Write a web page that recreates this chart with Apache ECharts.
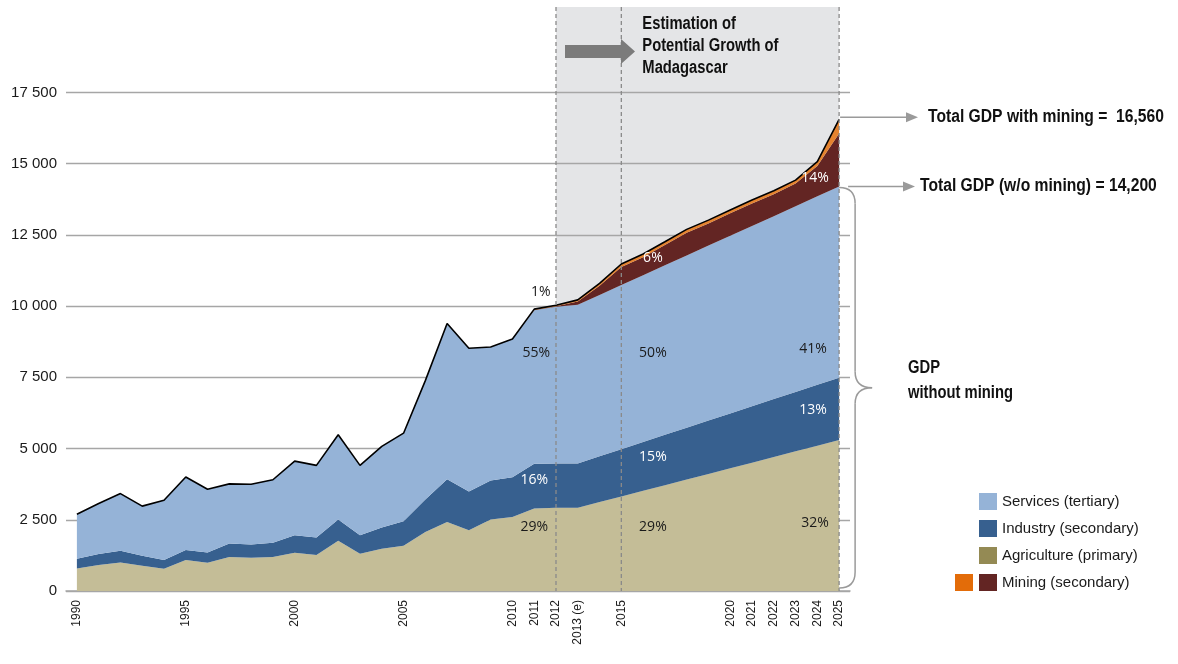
<!DOCTYPE html>
<html><head><meta charset="utf-8">
<script src="https://cdn.jsdelivr.net/npm/echarts@6/dist/echarts.min.js"></script>
<style>html,body{margin:0;padding:0;background:#fff}#c{width:1178px;height:664px}</style>
</head><body><div id="c"></div>
<script>
// ---------- data ----------
const years = ['1990','1991','1992','1993','1994','1995','1996','1997','1998','1999',
  '2000','2001','2002','2003','2004','2005','2006','2007','2008','2009',
  '2010','2011','2012','2013','2014','2015','2016','2017','2018','2019',
  '2020','2021','2022','2023','2024','2025'];
const shownYearLabels = ['1990','1995','2000','2005','2010','2011','2012','2013','2015','2020','2021','2022','2023','2024','2025'];
const yearLabelText = {'2013': '2013 (e)'};
const yTicks = [0, 2500, 5000, 7500, 10000, 12500, 15000, 17500];

const agriculture = [790,910,1000,890,780,1085,990,1190,1165,1190,
  1340,1260,1760,1305,1480,1590,2075,2425,2135,2510,
  2600,2895,2920,2920,3120,3320,3515,3715,3910,4110,
  4310,4505,4705,4905,5100,5300];
const industry = [340,385,410,350,305,350,365,480,470,500,
  620,620,750,655,750,860,1135,1495,1355,1365,
  1390,1575,1560,1560,1610,1660,1720,1770,1825,1875,
  1925,1980,2035,2085,2140,2190];
const services = [1565,1775,2010,1740,2100,2565,2215,2090,2110,2215,
  2600,2530,2975,2450,2845,3090,4175,5470,5030,4690,
  4855,5385,5500,5570,5665,5760,5850,5950,6045,6140,
  6235,6330,6420,6515,6615,6710];
const miningMain = [0,0,0,0,0,0,0,0,0,0,
  0,0,0,0,0,0,0,0,0,0,
  0,10,20,110,325,630,635,710,800,780,
  790,790,770,800,1065,1860];
const miningOther = [0,0,0,0,0,0,0,0,0,0,
  0,0,0,0,0,0,0,0,0,0,
  0,30,30,60,80,110,110,115,115,115,
  115,120,120,120,150,500];

const seriesNames = ['Agriculture (primary)','Industry (secondary)','Services (tertiary)','Mining (secondary)','Mining (other)'];
const shareLabels = [
  {text:'55%', year:2011.1, value:8360, dark:true},
  {text:'16%', year:2011.0, value:3900, dark:false},
  {text:'29%', year:2011.0, value:2250, dark:true},
  {text:'1%',  year:2011.3, value:10500, dark:true},
  {text:'50%', year:2016.45, value:8360, dark:true},
  {text:'15%', year:2016.45, value:4700, dark:false},
  {text:'29%', year:2016.45, value:2250, dark:true},
  {text:'6%',  year:2016.45, value:11690, dark:false},
  {text:'41%', year:2023.8, value:8500, dark:true},
  {text:'13%', year:2023.8, value:6350, dark:false},
  {text:'32%', year:2023.9, value:2390, dark:true},
  {text:'14%', year:2023.9, value:14500, dark:false}
];
const totalWithMining = '16,560';
const totalWithoutMining = '14,200';

// ---------- styles ----------
const SANS = "'Liberation Sans',Arial,sans-serif";
const C = {
  agriArea:'#c4bd97', agriLegend:'#948a54',
  industry:'#37608f', services:'#95b3d7',
  mining:'#632523', miningOtherArea:'#e5832f', miningOtherLegend:'#e36c09'
};

const totals = years.map((_, i) => agriculture[i] + industry[i] + services[i] + miningMain[i] + miningOther[i]);

function areaSeries(name, data, legendColor, fill) {
  return {
    name, type:'line', stack:'gdp', data, symbol:'none', showSymbol:false,
    lineStyle:{width:0, color:legendColor}, itemStyle:{color:legendColor},
    areaStyle:{color:fill, opacity:1}, emphasis:{disabled:true}, silent:true, z:2
  };
}

const chart = echarts.init(document.getElementById('c'), null, {renderer:'canvas'});
const option = {
  animation:false,
  backgroundColor:'#ffffff',
  grid:{left:66, right:328, top:92.5, bottom:73, containLabel:false},
  xAxis:{
    type:'category', data:years, boundaryGap:true,
    axisLine:{show:true, lineStyle:{color:'#a6a6a6', width:1.5}},
    axisTick:{show:false},
    axisLabel:{rotate:90, margin:9, interval:(i, v) => shownYearLabels.includes(v),
      formatter:v => yearLabelText[v] || v, fontFamily:SANS, fontSize:12, color:'#1a1a1a'},
    splitLine:{show:false}
  },
  yAxis:{
    type:'value', min:yTicks[0], max:yTicks[yTicks.length-1], interval:yTicks[1]-yTicks[0],
    axisLine:{show:false}, axisTick:{show:false},
    axisLabel:{margin:9, fontFamily:SANS, fontSize:15, color:'#1a1a1a',
      formatter:v => String(v).replace(/\B(?=(\d{3})+(?!\d))/g, ' ')},
    splitLine:{lineStyle:{color:'#a6a6a6', width:1.3}}
  },
  legend:[
    {
      orient:'vertical', left:979, top:493, padding:0, itemWidth:18, itemHeight:17, itemGap:10,
      selectedMode:false, icon:'rect', itemStyle:{borderWidth:0},
      textStyle:{fontFamily:SANS, fontSize:15, color:'#1a1a1a', lineHeight:17},
      data:[
        {name:seriesNames[2], itemStyle:{color:C.services}},
        {name:seriesNames[1], itemStyle:{color:C.industry}},
        {name:seriesNames[0], itemStyle:{color:C.agriLegend}},
        {name:seriesNames[3], itemStyle:{color:C.mining}}
      ]
    },
    {
      orient:'vertical', left:955, top:574, padding:0, itemWidth:18, itemHeight:17,
      selectedMode:false, icon:'rect', itemStyle:{borderWidth:0}, formatter:() => '',
      data:[{name:seriesNames[4], itemStyle:{color:C.miningOtherLegend}}]
    }
  ],
  series:[
    areaSeries(seriesNames[0], agriculture, C.agriLegend, C.agriArea),
    areaSeries(seriesNames[1], industry, C.industry, C.industry),
    areaSeries(seriesNames[2], services, C.services, C.services),
    areaSeries(seriesNames[3], miningMain, C.mining, C.mining),
    areaSeries(seriesNames[4], miningOther, C.miningOtherLegend, C.miningOtherArea),
    {name:'Total', type:'line', data:totals, symbol:'none', showSymbol:false,
     lineStyle:{color:'#000', width:1.6}, emphasis:{disabled:true}, silent:true, z:3}
  ]
};
chart.setOption(option);

// ---------- annotations placed through the chart's own scales ----------
const px = (cat, v) => chart.convertToPixel({gridIndex:0}, [cat, v]);
const x0 = px('1990', 0)[0];
const step = px('1991', 0)[0] - x0;
const xYear = yr => x0 + (yr - 1990) * step;
const yVal = v => px('1990', v)[1];
const yBase = yVal(0);
const topY = 7;
const xEst = px('2012', 0)[0], x15 = px('2015', 0)[0], xEnd = px('2025', 0)[0];
const yTot = yVal(totals[totals.length-1]);
const yNoMin = yVal(agriculture[35] + industry[35] + services[35]);
const gray = '#9a9a9a';
const BOLD = "bold 18px " + SANS;

const g = [];
g.push({type:'rect', z:-1, silent:true, shape:{x:xEst, y:topY, width:xEnd - xEst, height:yBase - topY}, style:{fill:'#e4e5e7'}});
[xEst, x15, xEnd].forEach(x => g.push({type:'line', z:10, silent:true,
  shape:{x1:x, y1:topY, x2:x, y2:yBase}, style:{stroke:'#8a8a8a', lineWidth:1.3, lineDash:[4,3]}}));
// arrow
const ax = xEst + 9, ay = 51.5;
g.push({type:'polygon', z:10, silent:true, shape:{points:[
  [ax, ay-6.5],[ax+56, ay-6.5],[ax+56, ay-12.5],[ax+70, ay],[ax+56, ay+12.5],[ax+56, ay+6.5],[ax, ay+6.5]]},
  style:{fill:'#7b7b7b'}});
function boldText(t, x, y, sx, vAlign) {
  g.push({type:'text', z:10, silent:true, x:x, y:y, scaleX:sx, scaleY:1,
    style:{text:t, x:0, y:0, font:BOLD, fill:'#111', textAlign:'left', textVerticalAlign:vAlign}});
}
['Estimation of','Potential Growth of','Madagascar'].forEach((t, i) => boldText(t, x15 + 21, 33 + i*22, 0.82, 'bottom'));
// total arrows
function hArrow(y, xs, xe) {
  g.push({type:'line', z:10, silent:true, shape:{x1:xs, y1:y, x2:xe, y2:y}, style:{stroke:gray, lineWidth:1.5}});
  g.push({type:'polygon', z:10, silent:true, shape:{points:[[xe-2, y-5],[xe+10, y],[xe-2, y+5]]}, style:{fill:gray}});
}
hArrow(yTot - 2, xEnd + 1, 908);
hArrow(yNoMin, xEnd + 9, 905);
boldText('Total GDP with mining =  ' + totalWithMining, 928, yTot - 2, 0.87, 'middle');
boldText('Total GDP (w/o mining) = ' + totalWithoutMining, 920, yNoMin, 0.87, 'middle');
// brace (curly bracket) from quadratic curves and lines
const bTop = yNoMin + 1, bBot = yBase - 3, bMid = (bTop + bBot) / 2;
const bx = xEnd + 16, r = 16;
const braceStyle = {stroke:gray, lineWidth:1.5, fill:null};
const curve = (x1,y1,cx,cy,x2,y2) => g.push({type:'bezierCurve', z:10, silent:true,
  shape:{x1, y1, x2, y2, cpx1:cx, cpy1:cy}, style:braceStyle});
const seg = (x1,y1,x2,y2) => g.push({type:'line', z:10, silent:true, shape:{x1,y1,x2,y2}, style:braceStyle});
curve(xEnd, bTop, bx, bTop, bx, bTop + r);
seg(bx, bTop + r, bx, bMid - r);
curve(bx, bMid - r, bx, bMid, bx + 17, bMid);
curve(bx + 17, bMid, bx, bMid, bx, bMid + r);
seg(bx, bMid + r, bx, bBot - r);
curve(bx, bBot - r, bx, bBot, xEnd, bBot);
boldText('GDP', 908, bMid - 20, 0.82, 'middle');
boldText('without mining', 908, bMid + 5, 0.82, 'middle');
// share labels
shareLabels.forEach(l => g.push({type:'text', z:10, silent:true, style:{text:l.text, x:xYear(l.year), y:yVal(l.value),
  font:"14px 'Open Sans','Liberation Sans',sans-serif", fill:l.dark ? '#1a1a1a' : '#ffffff', textAlign:'center', textVerticalAlign:'middle'}}));

chart.setOption({graphic:{elements:g}});
</script>
</body></html>
